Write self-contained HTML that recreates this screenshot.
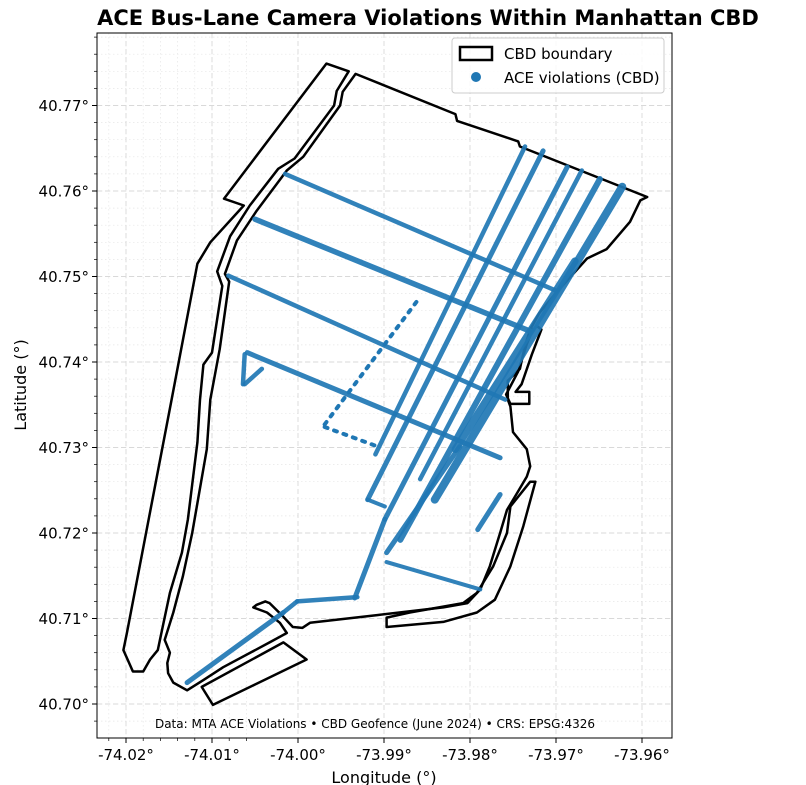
<!DOCTYPE html>
<html><head><meta charset="utf-8">
<style>
html,body{margin:0;padding:0;background:#fff;}
svg{display:block;font-family:"DejaVu Sans","Liberation Sans",sans-serif;}
</style></head>
<body>
<svg id="chart" width="806" height="785" viewBox="0 0 806 785" xmlns="http://www.w3.org/2000/svg">
<rect x="0" y="0" width="806" height="785" fill="#fff"/>
<g id="grid"></g>
<g id="bounds"></g>
<g id="viol"></g>
<rect x="97" y="33" width="575" height="705" fill="none" stroke="#000" stroke-width="1"/>
<g id="ticks"></g>
<text x="428" y="25" text-anchor="middle" font-size="21" font-weight="bold">ACE Bus-Lane Camera Violations Within Manhattan CBD</text>
<text x="384" y="783" text-anchor="middle" font-size="16">Longitude (°)</text>
<text transform="translate(26,385) rotate(-90)" text-anchor="middle" font-size="16">Latitude (°)</text>
<text x="375" y="728" text-anchor="middle" font-size="12">Data: MTA ACE Violations • CBD Geofence (June 2024) • CRS: EPSG:4326</text>
<g>
<rect x="452" y="38" width="212" height="55" rx="3" fill="#fff" fill-opacity="0.85" stroke="#ccc"/>
<rect x="460" y="47" width="32" height="13" fill="none" stroke="#000" stroke-width="2.5"/>
<text x="504" y="59" font-size="15">CBD boundary</text>
<circle cx="476" cy="77" r="5" fill="#1f77b4"/>
<text x="504" y="83" font-size="15">ACE violations (CBD)</text>
</g>
</svg>
<script>
const xTicks=[-74.02,-74.01,-74.00,-73.99,-73.98,-73.97,-73.96];
const xTickLabels=["-74.02°","-74.01°","-74.00°","-73.99°","-73.98°","-73.97°","-73.96°"];
const yTicks=[40.70,40.71,40.72,40.73,40.74,40.75,40.76,40.77];
const yTickLabels=["40.70°","40.71°","40.72°","40.73°","40.74°","40.75°","40.76°","40.77°"];
const stripLon=[-73.9967,-73.9941,-73.9955,-73.9958,-74.0004,-74.0023,-74.0056,-74.0079,-74.0094,-74.0088,-74.0100,-74.0110,-74.0114,-74.0117,-74.0128,-74.0135,-74.0149,-74.0158,-74.0163,-74.0172,-74.0180,-74.0192,-74.0203,-74.0199,-74.0147,-74.0117,-74.0102,-74.0063,-74.0086];
const stripLat=[40.7749,40.7740,40.7717,40.7700,40.7638,40.7626,40.7583,40.7547,40.7506,40.7489,40.7411,40.7397,40.7356,40.7306,40.7216,40.7177,40.7130,40.7087,40.7063,40.7052,40.7038,40.7038,40.7063,40.7083,40.7356,40.7515,40.7540,40.7583,40.7591];
const mainLon=[-73.9933,-73.9817,-73.9815,-73.9744,-73.9742,-73.9594,-73.9602,-73.9614,-73.9641,-73.9664,-73.9699,-73.9719,-73.9730,-73.9736,-73.9742,-73.9756,-73.9756,-73.9753,-73.9750,-73.9734,-73.9730,-73.9734,-73.9745,-73.9757,-73.9765,-73.9777,-73.9788,-73.9803,-73.9831,-73.9908,-73.9986,-73.9995,-74.0006,-74.0017,-74.0033,-74.0038,-74.0048,-74.0052,-74.0036,-74.0021,-74.0013,-74.0033,-74.0087,-74.0110,-74.0129,-74.0145,-74.0151,-74.0152,-74.0149,-74.0155,-74.0145,-74.0134,-74.0123,-74.0106,-74.0102,-74.0091,-74.0080,-74.0085,-74.0071,-74.0048,-74.0013,-73.9994,-73.9951,-73.9948];
const mainLat=[40.7737,40.7690,40.7682,40.7658,40.7652,40.7593,40.7589,40.7564,40.7532,40.7521,40.7482,40.7458,40.7438,40.7419,40.7392,40.7378,40.7356,40.7348,40.7318,40.7298,40.7278,40.7266,40.7247,40.7227,40.7200,40.7161,40.7134,40.7118,40.7113,40.7104,40.7095,40.7089,40.7090,40.7102,40.7118,40.7120,40.7116,40.7113,40.7107,40.7095,40.7083,40.7072,40.7043,40.7028,40.7016,40.7025,40.7036,40.7048,40.7060,40.7075,40.7107,40.7149,40.7200,40.7298,40.7356,40.7415,40.7494,40.7503,40.7542,40.7577,40.7624,40.7640,40.7700,40.7716];
const fdrLon=[-73.9722,-73.9717,-73.9728,-73.9740,-73.9747,-73.9731,-73.9731,-73.9753,-73.9758,-73.9744,-73.9734,-73.9727];
const fdrLat=[40.7442,40.7438,40.7409,40.7374,40.7365,40.7365,40.7351,40.7351,40.7362,40.7389,40.7421,40.7438];
const eastLon=[-73.9724,-73.9730,-73.9753,-73.9757,-73.9773,-73.9792,-73.9808,-73.9870,-73.9897,-73.9897,-73.9831,-73.9792,-73.9771,-73.9753,-73.9738];
const eastLat=[40.7260,40.7260,40.7231,40.7200,40.7161,40.7130,40.7118,40.7107,40.7101,40.7090,40.7096,40.7107,40.7122,40.7161,40.7208];
const pierLon=[-74.0112,-74.0017,-73.9990,-74.0099];
const pierLat=[40.7020,40.7072,40.7052,40.6999];
const segLon1=[-74.0015,-74.0050,-74.0081,-74.0059,-73.9897,-73.9931,-74.0001,-74.0017,-74.0062,-74.0062,-73.9736,-73.9715,-73.9919,-73.9687,-73.9899,-73.9670,-73.9649,-73.9623,-73.9678,-73.9812,-73.9765];
const segLat1=[40.7620,40.7567,40.7501,40.7411,40.7166,40.7125,40.7120,40.7107,40.7409,40.7374,40.7652,40.7647,40.7239,40.7628,40.7216,40.7624,40.7614,40.7605,40.7518,40.7301,40.7245];
const segLon2=[-73.9699,-73.9730,-73.9759,-73.9765,-73.9788,-74.0001,-74.0017,-74.0129,-74.0064,-74.0042,-73.9910,-73.9919,-73.9899,-73.9899,-73.9934,-73.9858,-73.9881,-73.9841,-73.9817,-73.9897,-73.9791];
const segLat2=[40.7483,40.7436,40.7356,40.7288,40.7134,40.7120,40.7107,40.7025,40.7374,40.7392,40.7292,40.7239,40.7231,40.7216,40.7124,40.7263,40.7192,40.7239,40.7298,40.7177,40.7204];
const segWeight=[0.9,1.1,0.9,1,0.8,0.9,0.9,1,0.9,0.9,0.9,1,0.8,1,1,0.9,1.2,1.6,1.5,1,1];
const dotLon1=[-73.9969,-73.9969];
const dotLat1=[40.7327,40.7324];
const dotLon2=[-73.9858,-73.9907];
const dotLat2=[40.7476,40.7301];

const NS="http://www.w3.org/2000/svg";
const X0=126,X1=642,Y0=704,Y1=191;
function xs(lon){return X0+(lon-(-74.02))/0.06*(X1-X0);}
function ys(lat){return Y0-(lat-40.70)/0.06*(Y0-Y1);}
function mk(tag,attrs,parent){const e=document.createElementNS(NS,tag);for(const k in attrs)e.setAttribute(k,attrs[k]);parent.appendChild(e);return e;}
const grid=document.getElementById('grid'),ticks=document.getElementById('ticks');
for(let i=-12;i<=7;i++){const lon=-74.02+i*0.002;const x=xs(lon);if(x<97||x>672)continue;
 const l=mk('line',{x1:x,x2:x,y1:33,y2:738,stroke:'#e6e6e6','stroke-width':0.7,'stroke-dasharray':'1.5,2.5'},grid);
 
 const t=mk('line',{x1:x,x2:x,y1:738,y2:741,stroke:'#000','stroke-width':0.7},ticks);
 }
for(let i=-2;i<=42;i++){const lat=40.70+i*0.002;const y=ys(lat);if(y<33||y>738)continue;
 const l=mk('line',{x1:97,x2:672,y1:y,y2:y,stroke:'#e6e6e6','stroke-width':0.7,'stroke-dasharray':'1.5,2.5'},grid);
 
 const t=mk('line',{x1:94,x2:97,y1:y,y2:y,stroke:'#000','stroke-width':0.7},ticks);
 }
xTicks.forEach((v,i)=>{const x=xs(v);
 const g=mk('line',{x1:x,x2:x,y1:33,y2:738,stroke:'#d9d9d9','stroke-width':0.9,'stroke-dasharray':'5,3'},grid);
 
 const t=mk('line',{x1:x,x2:x,y1:738,y2:743,stroke:'#000','stroke-width':1},ticks);
 
 const tx=mk('text',{x:x,y:760,'text-anchor':'middle','font-size':15},ticks);tx.textContent=xTickLabels[i];
 });
yTicks.forEach((v,i)=>{const y=ys(v);
 const g=mk('line',{x1:97,x2:672,y1:y,y2:y,stroke:'#d9d9d9','stroke-width':0.9,'stroke-dasharray':'5,3'},grid);
 
 const t=mk('line',{x1:92,x2:97,y1:y,y2:y,stroke:'#000','stroke-width':1},ticks);
 
 const tx=mk('text',{x:89,y:y+5.5,'text-anchor':'end','font-size':15},ticks);tx.textContent=yTickLabels[i];
 });
const bounds=document.getElementById('bounds');
function poly(lons,lats,name){const pts=lons.map((v,i)=>xs(v).toFixed(1)+','+ys(lats[i]).toFixed(1)).join(' ');
 const p=mk('polygon',{points:pts,fill:'none',stroke:'#000','stroke-width':2.5,'stroke-linejoin':'round'},bounds);
 }
poly(stripLon,stripLat,'boundary-west-strip');
poly(mainLon,mainLat,'boundary-main');
poly(fdrLon,fdrLat,'boundary-fdr-strip');
poly(eastLon,eastLat,'boundary-east-strip');
poly(pierLon,pierLat,'boundary-pier');
const viol=document.getElementById('viol');
segLon1.forEach((v,i)=>{const l=mk('line',{x1:xs(v),y1:ys(segLat1[i]),x2:xs(segLon2[i]),y2:ys(segLat2[i]),stroke:'#1f77b4','stroke-width':5*segWeight[i],'stroke-linecap':'round','stroke-opacity':0.92},viol);
 });
dotLon1.forEach((v,i)=>{const l=mk('line',{x1:xs(v),y1:ys(dotLat1[i]),x2:xs(dotLon2[i]),y2:ys(dotLat2[i]),stroke:'#1f77b4','stroke-width':4,'stroke-linecap':'round','stroke-dasharray':'3,7'},viol);
 });
</script>
</body></html>
